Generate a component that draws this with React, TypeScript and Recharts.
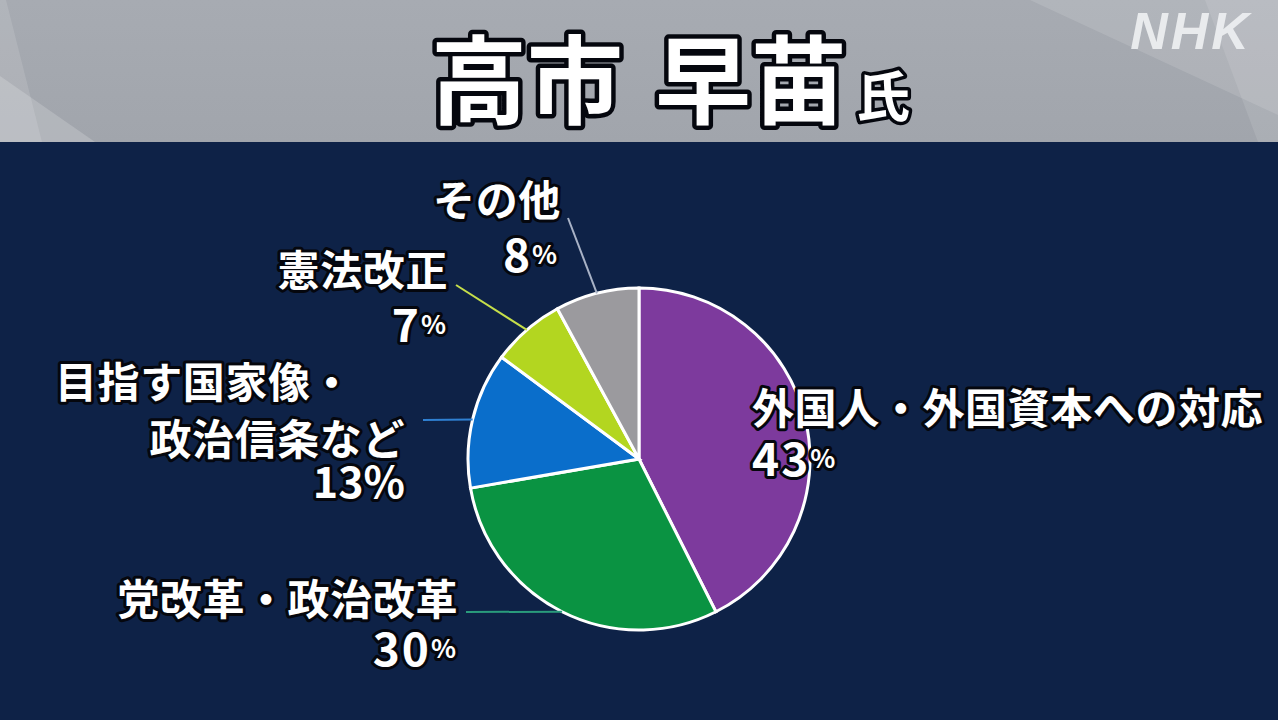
import React from "react";
import { PieChart, Pie, Cell } from "recharts";

// answer categories (label lines as shown) and their share in percent
const labelLines = [
  ["外国人・外国資本への対応"],
  ["党改革・政治改革"],
  ["目指す国家像・", "政治信条など"],
  ["憲法改正"],
  ["その他"],
];
const shares = [43, 30, 13, 7, 8];

const sliceColors = ["#7d3a9d", "#0a9342", "#0a6ecb", "#b3d620", "#9b9a9e"];
const leaderColors = ["#7d3a9d", "#2a9c7c", "#2f80d2", "#c6df4a", "#a8b2c6"];

const pieData = labelLines.map((lines, i) => ({ name: lines.join(""), value: shares[i] }));

const W = 1278;
const H = 720;
const CX = 639;
const CY = 459;
const R = 171;
const RAD = Math.PI / 180;

// where each label sits, as offsets from the pie centre
const labelPos = [
  { end: null, text: [{ x: 113, y: -54, a: "start" }], pct: { x: 113, y: -3, a: "start" }, smallPct: true },
  { end: [-173, 153], text: [{ x: -181, y: 137, a: "end" }], pct: { x: -181, y: 187, a: "end" }, smallPct: true },
  {
    end: [-216, -39],
    text: [
      { x: -584, y: -80, a: "start" },
      { x: -234, y: -23, a: "end" },
    ],
    pct: { x: -234, y: 20, a: "end" },
    smallPct: false,
  },
  { end: [-183, -174], text: [{ x: -191, y: -192, a: "end" }], pct: { x: -191, y: -137, a: "end" }, smallPct: true },
  { end: [-71, -241], text: [{ x: -142, y: -262, a: "middle" }], pct: { x: -108, y: -207, a: "middle" }, smallPct: true },
];

const jpFont = "'Noto Sans CJK JP', 'Noto Sans', sans-serif";

const outlined = {
  fill: "#ffffff",
  stroke: "#05070e",
  strokeWidth: 6,
  strokeLinejoin: "round" as const,
  paintOrder: "stroke" as const,
  fontFamily: jpFont,
  fontWeight: 700,
};

const renderLabel = (props: any) => {
  const { cx, cy, midAngle, outerRadius, index } = props;
  const pos = labelPos[index];
  const sx = cx + outerRadius * Math.cos(-midAngle * RAD);
  const sy = cy + outerRadius * Math.sin(-midAngle * RAD);
  return (
    <g>
      {pos.end && (
        <line
          x1={sx}
          y1={sy}
          x2={cx + pos.end[0]}
          y2={cy + pos.end[1]}
          stroke={leaderColors[index]}
          strokeWidth={2}
        />
      )}
      {labelLines[index].map((t, k) => (
        <text
          key={k}
          x={cx + pos.text[k].x}
          y={cy + pos.text[k].y}
          textAnchor={pos.text[k].a}
          dominantBaseline="central"
          fontSize={42}
          letterSpacing={0.6}
          {...outlined}
        >
          {t}
        </text>
      ))}
      <text
        x={cx + pos.pct.x}
        y={cy + pos.pct.y}
        textAnchor={pos.pct.a}
        dominantBaseline="central"
        fontSize={pos.smallPct ? 46 : 43}
        letterSpacing={pos.smallPct ? 2 : 0}
        {...outlined}
      >
        {shares[index]}
        <tspan fontSize={pos.smallPct ? 26 : 43}>%</tspan>
      </text>
    </g>
  );
};

const Header = () => (
  <svg width={W} height={142} style={{ position: "absolute", left: 0, top: 0 }}>
    <defs>
      <linearGradient id="hdr" x1="0" y1="0" x2="0" y2="1">
        <stop offset="0%" stopColor="#a7abb2" />
        <stop offset="100%" stopColor="#a1a5ac" />
      </linearGradient>
    </defs>
    <rect x={0} y={0} width={W} height={142} fill="url(#hdr)" />
    {/* light diagonal panels */}
    <polygon points="0,0 6,0 42,142 0,142" fill="#ffffff" opacity={0.12} />
    <polygon points="0,76 95,142 0,142" fill="#ffffff" opacity={0.18} />
    <polygon points="1030,0 1278,0 1278,115" fill="#ffffff" opacity={0.12} />
    <polygon points="1205,0 1278,0 1278,142 1258,142" fill="#ffffff" opacity={0.1} />
    <text x={527} y={74} textAnchor="middle" dominantBaseline="central" fontSize={96} {...outlined} strokeWidth={9}>
      高市
    </text>
    <text x={751} y={74} textAnchor="middle" dominantBaseline="central" fontSize={96} {...outlined} strokeWidth={9}>
      早苗
    </text>
    <text x={883} y={93} textAnchor="middle" dominantBaseline="central" fontSize={54} {...outlined} strokeWidth={7}>
      氏
    </text>
    <text
      x={1191}
      y={31}
      textAnchor="middle"
      dominantBaseline="central"
      fontSize={52}
      fontStyle="italic"
      fontWeight={700}
      fontFamily="'Liberation Sans', Arial, sans-serif"
      letterSpacing={3}
      fill="#eef0f2"
      opacity={0.92}
    >
      NHK
    </text>
  </svg>
);

const App = () => {
  return (
    <div
      style={{
        position: "absolute",
        left: 0,
        top: 0,
        width: W,
        height: H,
        background: "#0e2247",
        overflow: "hidden",
      }}
    >
      <Header />
      <div style={{ position: "absolute", left: 0, top: 0 }}>
        <PieChart width={W} height={H} margin={{ top: 0, right: 0, bottom: 0, left: 0 }}>
          <Pie
            data={pieData}
            dataKey="value"
            nameKey="name"
            cx={CX}
            cy={CY}
            outerRadius={R}
            startAngle={90}
            endAngle={-270}
            stroke="#ffffff"
            strokeWidth={3}
            label={renderLabel}
            labelLine={false}
            isAnimationActive={false}
          >
            {pieData.map((_, i) => (
              <Cell key={`cell-${i}`} fill={sliceColors[i]} />
            ))}
          </Pie>
        </PieChart>
      </div>
    </div>
  );
};

export default App;
